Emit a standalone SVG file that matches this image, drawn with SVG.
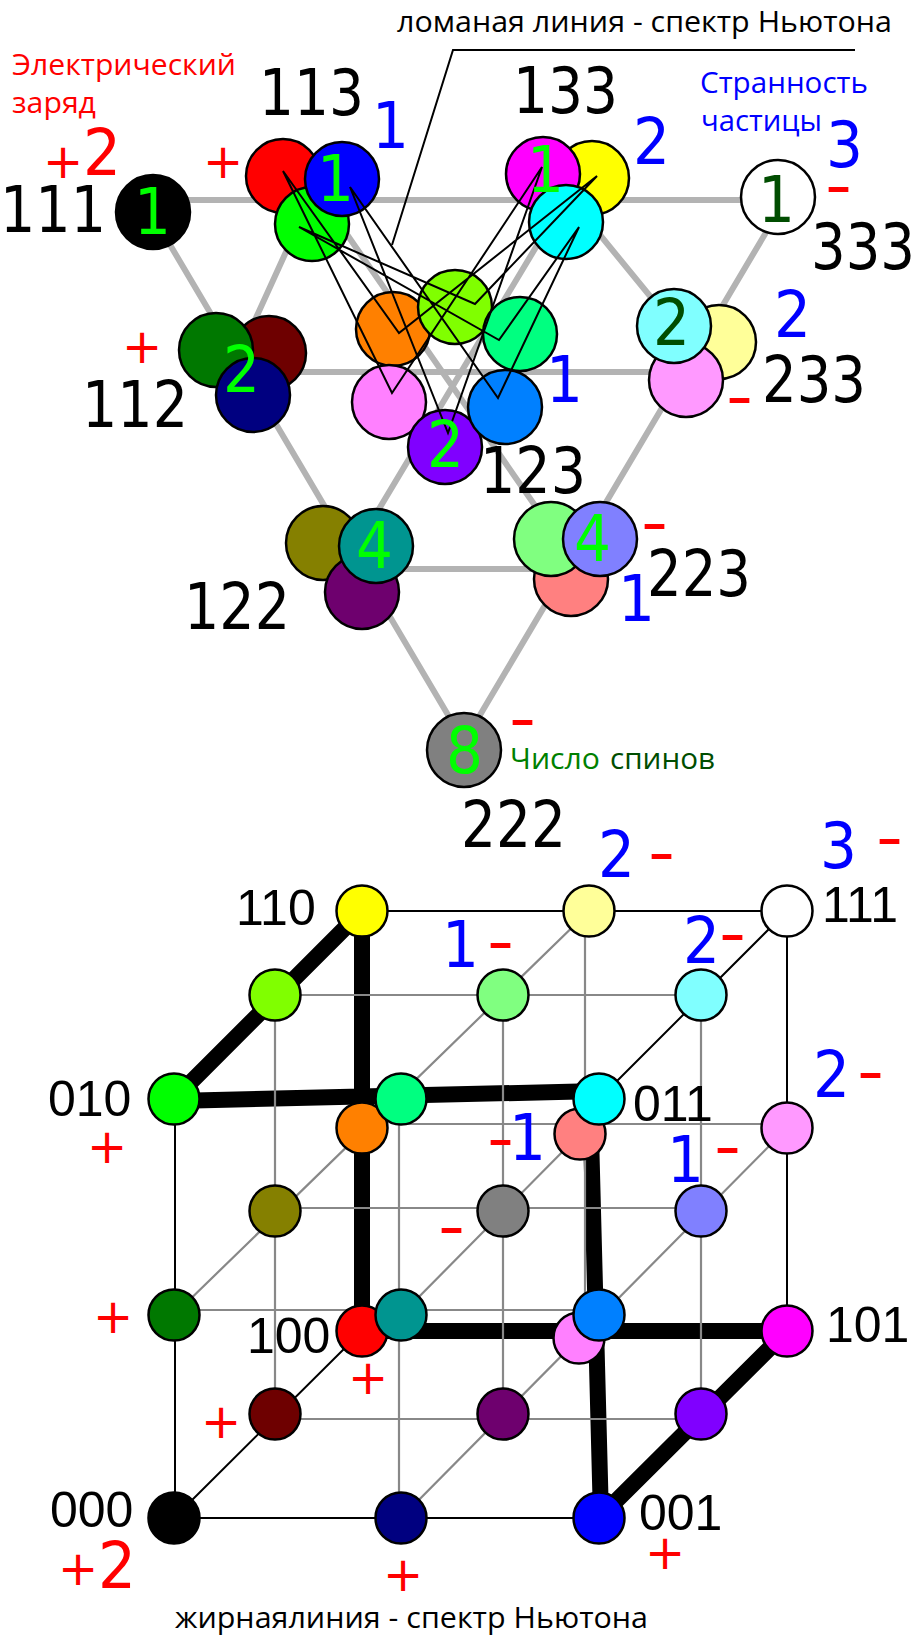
<svg xmlns="http://www.w3.org/2000/svg" width="915" height="1638" viewBox="0 0 915 1638">
<style>
text{font-family:"DejaVu Sans",sans-serif;white-space:pre}
.n{font-size:64px;fill:#000}
.b{font-size:64px;fill:#00f}
.g{font-size:64px;fill:#0f0}
.d{font-size:64px;fill:#004d00}
.r{font-size:64px;fill:#f00}
.p{font-size:48px;fill:#f00}
.m{font-size:62px;fill:#f00}
.c{font-family:"Liberation Sans",Arial,sans-serif;font-size:50px;fill:#000}
.o{font-family:"Open Sans","Noto Sans",sans-serif;font-size:30px}
.t circle{stroke:#000;stroke-width:2.5}
.hex{stroke:#b3b3b3;stroke-width:6;fill:none}
.fine{stroke:#000;stroke-width:2;fill:none;stroke-linejoin:miter}
.thin{stroke:#000;stroke-width:2;fill:none}
.gr{stroke:#888;stroke-width:2.2;fill:none}
.bold{stroke:#000;stroke-width:16;fill:none}
</style>
<g id="connectors">
<g class="hex">
<path d="M153 200H778M269 372H687M376 569H571"/>
<path d="M153 216L464 742M321 197L545 520M569 197L690 345"/>
<path d="M787 197L464 742M566 197L376 514M311 197L255 320"/>
</g>
<g class="bold">
<path d="M362 911L174 1099M362 911V1331M174 1101L599 1091M362 1331H787M591 1134L601 1518M787 1331L599 1518"/>
</g>
<g class="thin">
<path d="M362 911H787L599 1099M787 911V1331M175 1099V1518H599M174 1518L362 1331"/>
</g>
<g class="gr">
<path d="M275 995H701M275 995V1414M503 995V1414M701 995V1414M585 911V1315M399 1099V1518"/>
<path d="M399 1124H787M275 1208H701M174 1310H599M275 1419H701"/>
<path d="M589 911L174 1315M580 1134L401 1315M787 1128L401 1518"/>
</g>
</g>
<g id="top-nodes" class="t">
<circle id="t-black" cx="153" cy="212" r="37" fill="#000"/>
<circle id="t-white" cx="778" cy="197" r="37" fill="#fff"/>
<circle id="t-red" cx="283" cy="176" r="37" fill="#f00"/>
<circle id="t-green" cx="312" cy="224" r="37" fill="#0f0"/>
<circle id="t-blue" cx="342" cy="179" r="37" fill="#00f"/>
<circle id="t-yellow" cx="592" cy="178" r="37" fill="#ff0"/>
<circle id="t-magenta" cx="543" cy="174" r="37" fill="#f0f"/>
<circle id="t-cyan" cx="566" cy="222" r="37" fill="#0ff"/>
<circle id="t-maroon" cx="269" cy="353" r="37" fill="#6e0000"/>
<circle id="t-dgreen" cx="216" cy="350" r="37" fill="#007800"/>
<circle id="t-navy" cx="253" cy="395" r="37" fill="#000080"/>
<circle id="t-lyellow" cx="719" cy="342" r="37" fill="#ff9"/>
<circle id="t-lpink" cx="686" cy="380" r="37" fill="#f9f"/>
<circle id="t-lcyan" cx="674" cy="326" r="37" fill="#80ffff"/>
<circle id="t-orange" cx="393" cy="329" r="37" fill="#ff8000"/>
<circle id="t-lime" cx="455" cy="307" r="37" fill="#80ff00"/>
<circle id="t-spring" cx="520" cy="334" r="37" fill="#00ff80"/>
<circle id="t-pink" cx="389" cy="402" r="37" fill="#ff80ff"/>
<circle id="t-violet" cx="445" cy="447" r="37" fill="#8000ff"/>
<circle id="t-azure" cx="505" cy="407" r="37" fill="#0080ff"/>
<circle id="t-olive" cx="323" cy="543" r="37" fill="#858000"/>
<circle id="t-dpurple" cx="362" cy="592" r="37" fill="#6e006e"/>
<circle id="t-teal" cx="376" cy="546" r="37" fill="#009590"/>
<circle id="t-salmon" cx="571" cy="579" r="37" fill="#ff8080"/>
<circle id="t-lgreen" cx="551" cy="539" r="37" fill="#80ff80"/>
<circle id="t-peri" cx="600" cy="539" r="37" fill="#8080ff"/>
<circle id="t-gray" cx="464" cy="750" r="37" fill="#808080"/>
</g>
<g id="spectrum" class="fine">
<path d="M283 171L399 333L597 176L475 304L299 227L499 340L579 227L498 398L350 187L448 433L542 167L392 393Z"/>
<path d="M392 245L453 50H855"/>
</g>
<g id="bottom-nodes" class="t">
<circle id="b-yellow" cx="362" cy="911" r="25.5" fill="#ff0"/>
<circle id="b-lyellow" cx="589" cy="911" r="25.5" fill="#ff9"/>
<circle id="b-white" cx="787" cy="911" r="25.5" fill="#fff"/>
<circle id="b-lime" cx="275" cy="995" r="25.5" fill="#80ff00"/>
<circle id="b-lgreen" cx="503" cy="995" r="25.5" fill="#80ff80"/>
<circle id="b-lcyan" cx="701" cy="995" r="25.5" fill="#80ffff"/>
<circle id="b-green" cx="174" cy="1099" r="25.5" fill="#0f0"/>
<circle id="b-orange" cx="362" cy="1128" r="25.5" fill="#ff8000"/>
<circle id="b-spring" cx="401" cy="1099" r="25.5" fill="#00ff80"/>
<circle id="b-salmon" cx="580" cy="1134" r="25.5" fill="#ff8080"/>
<circle id="b-cyan" cx="599" cy="1099" r="25.5" fill="#0ff"/>
<circle id="b-lpink" cx="787" cy="1128" r="25.5" fill="#f9f"/>
<circle id="b-olive" cx="275" cy="1211" r="25.5" fill="#858000"/>
<circle id="b-gray" cx="503" cy="1211" r="25.5" fill="#808080"/>
<circle id="b-peri" cx="701" cy="1211" r="25.5" fill="#8080ff"/>
<circle id="b-dgreen" cx="174" cy="1315" r="25.5" fill="#007800"/>
<circle id="b-red" cx="362" cy="1331" r="25.5" fill="#f00"/>
<circle id="b-teal" cx="401" cy="1315" r="25.5" fill="#009590"/>
<circle id="b-pink" cx="579" cy="1338" r="25.5" fill="#ff80ff"/>
<circle id="b-azure" cx="599" cy="1315" r="25.5" fill="#0080ff"/>
<circle id="b-magenta" cx="787" cy="1331" r="25.5" fill="#f0f"/>
<circle id="b-maroon" cx="275" cy="1414" r="25.5" fill="#6e0000"/>
<circle id="b-dpurple" cx="503" cy="1414" r="25.5" fill="#6e006e"/>
<circle id="b-violet" cx="701" cy="1414" r="25.5" fill="#8000ff"/>
<circle id="b-black" cx="174" cy="1518" r="25.5" fill="#000"/>
<circle id="b-navy" cx="401" cy="1518" r="25.5" fill="#000080"/>
<circle id="b-blue" cx="599" cy="1518" r="25.5" fill="#00f"/>
</g>
<g id="labels">
<text class="o" x="397" y="32" textLength="495" lengthAdjust="spacingAndGlyphs">ломаная линия - спектр Ньютона</text>
<text class="o" x="12" y="75" fill="#f00" textLength="224" lengthAdjust="spacingAndGlyphs">Электрический</text>
<text class="o" x="12" y="113" fill="#f00" textLength="84" lengthAdjust="spacingAndGlyphs">заряд</text>
<text class="o" x="700" y="93" fill="#00f" textLength="168" lengthAdjust="spacingAndGlyphs">Странность</text>
<text class="o" x="701" y="131" fill="#00f" textLength="121" lengthAdjust="spacingAndGlyphs">частицы</text>
<text class="o" x="510" y="769" fill="#008000" textLength="90" lengthAdjust="spacingAndGlyphs">Число</text>
<text class="o" x="610" y="769" fill="#004d00" textLength="105" lengthAdjust="spacingAndGlyphs">спинов</text>
<text class="o" x="175" y="1628" textLength="473" lengthAdjust="spacingAndGlyphs">жирнаялиния - спектр Ньютона</text>

<text class="n" x="0" y="232" textLength="106" lengthAdjust="spacingAndGlyphs">111</text>
<text class="n" x="259" y="115" textLength="105" lengthAdjust="spacingAndGlyphs">113</text>
<text class="n" x="513" y="113" textLength="105" lengthAdjust="spacingAndGlyphs">133</text>
<text class="n" x="811" y="269" textLength="104" lengthAdjust="spacingAndGlyphs">333</text>
<text class="n" x="82" y="427" textLength="106" lengthAdjust="spacingAndGlyphs">112</text>
<text class="n" x="762" y="402" textLength="104" lengthAdjust="spacingAndGlyphs">233</text>
<text class="n" x="480" y="493" textLength="106" lengthAdjust="spacingAndGlyphs">123</text>
<text class="n" x="647" y="596" textLength="104" lengthAdjust="spacingAndGlyphs">223</text>
<text class="n" x="184" y="629" textLength="106" lengthAdjust="spacingAndGlyphs">122</text>
<text class="n" x="461" y="847" textLength="105" lengthAdjust="spacingAndGlyphs">222</text>

<text class="g" x="134" y="234" textLength="37" lengthAdjust="spacingAndGlyphs">1</text>
<text class="g" x="317" y="201" textLength="37" lengthAdjust="spacingAndGlyphs">1</text>
<text class="g" x="527" y="192" textLength="37" lengthAdjust="spacingAndGlyphs">1</text>
<text class="d" x="758" y="222" textLength="37" lengthAdjust="spacingAndGlyphs">1</text>
<text class="g" x="223" y="392" textLength="37" lengthAdjust="spacingAndGlyphs">2</text>
<text class="d" x="653" y="345" textLength="37" lengthAdjust="spacingAndGlyphs">2</text>
<text class="g" x="427" y="467" textLength="37" lengthAdjust="spacingAndGlyphs">2</text>
<text class="g" x="356" y="568" textLength="37" lengthAdjust="spacingAndGlyphs">4</text>
<text class="g" x="574" y="561" textLength="37" lengthAdjust="spacingAndGlyphs">4</text>
<text class="g" x="446" y="773" textLength="37" lengthAdjust="spacingAndGlyphs">8</text>

<text class="b" x="372" y="148" textLength="37" lengthAdjust="spacingAndGlyphs">1</text>
<text class="b" x="633" y="164" textLength="37" lengthAdjust="spacingAndGlyphs">2</text>
<text class="b" x="826" y="167" textLength="37" lengthAdjust="spacingAndGlyphs">3</text>
<text class="b" x="774" y="337" textLength="37" lengthAdjust="spacingAndGlyphs">2</text>
<text class="b" x="546" y="402" textLength="37" lengthAdjust="spacingAndGlyphs">1</text>
<text class="b" x="618" y="621" textLength="37" lengthAdjust="spacingAndGlyphs">1</text>
<text class="b" x="598" y="877" textLength="37" lengthAdjust="spacingAndGlyphs">2</text>
<text class="b" x="820" y="868" textLength="37" lengthAdjust="spacingAndGlyphs">3</text>
<text class="b" x="442" y="967" textLength="37" lengthAdjust="spacingAndGlyphs">1</text>
<text class="b" x="683" y="963" textLength="37" lengthAdjust="spacingAndGlyphs">2</text>
<text class="b" x="813" y="1097" textLength="37" lengthAdjust="spacingAndGlyphs">2</text>
<text class="b" x="509" y="1160" textLength="37" lengthAdjust="spacingAndGlyphs">1</text>
<text class="b" x="667" y="1182" textLength="37" lengthAdjust="spacingAndGlyphs">1</text>

<text class="p" x="43" y="178">+</text>
<text class="r" x="83" y="175" textLength="38" lengthAdjust="spacingAndGlyphs">2</text>
<text class="p" x="203" y="178">+</text>
<text class="p" x="122" y="363">+</text>
<text class="p" x="87" y="1163">+</text>
<text class="p" x="93" y="1333">+</text>
<text class="p" x="201" y="1438">+</text>
<text class="p" x="348" y="1394">+</text>
<text class="p" x="383" y="1591">+</text>
<text class="p" x="645" y="1569">+</text>
<text class="p" x="58" y="1585">+</text>
<text class="r" x="98" y="1588" textLength="38" lengthAdjust="spacingAndGlyphs">2</text>

<text class="m" x="825" y="207" textLength="27" lengthAdjust="spacingAndGlyphs">-</text>
<text class="m" x="726" y="418" textLength="27" lengthAdjust="spacingAndGlyphs">-</text>
<text class="m" x="641" y="544" textLength="27" lengthAdjust="spacingAndGlyphs">-</text>
<text class="m" x="509" y="740" textLength="27" lengthAdjust="spacingAndGlyphs">-</text>
<text class="m" x="648" y="874" textLength="27" lengthAdjust="spacingAndGlyphs">-</text>
<text class="m" x="876" y="859" textLength="27" lengthAdjust="spacingAndGlyphs">-</text>
<text class="m" x="487" y="963" textLength="27" lengthAdjust="spacingAndGlyphs">-</text>
<text class="m" x="719" y="955" textLength="27" lengthAdjust="spacingAndGlyphs">-</text>
<text class="m" x="857" y="1093" textLength="27" lengthAdjust="spacingAndGlyphs">-</text>
<text class="m" x="487" y="1160" textLength="27" lengthAdjust="spacingAndGlyphs">-</text>
<text class="m" x="714" y="1168" textLength="27" lengthAdjust="spacingAndGlyphs">-</text>
<text class="m" x="438" y="1248" textLength="27" lengthAdjust="spacingAndGlyphs">-</text>

<text class="c" x="236" y="925">110</text>
<text class="c" x="822" y="922">111</text>
<text class="c" x="48" y="1116">010</text>
<text class="c" x="633" y="1121">011</text>
<text class="c" x="247" y="1353">100</text>
<text class="c" x="826" y="1342">101</text>
<text class="c" x="50" y="1527">000</text>
<text class="c" x="639" y="1530">001</text>
</g>
</svg>
